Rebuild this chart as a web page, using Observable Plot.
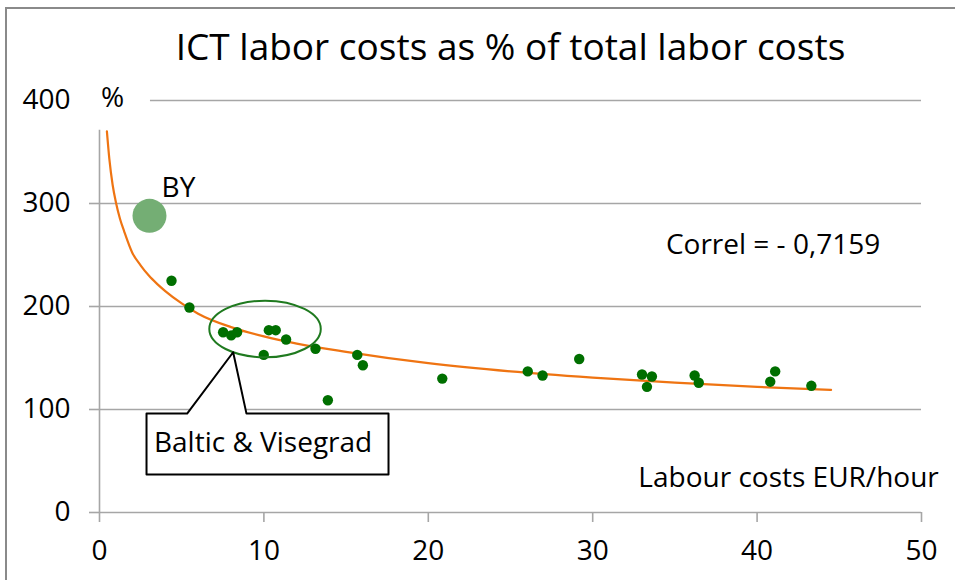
<!DOCTYPE html>
<html>
<head>
<meta charset="utf-8">
<script src="https://cdn.jsdelivr.net/npm/d3@7"></script>
<script src="https://cdn.jsdelivr.net/npm/@observablehq/plot@0.6"></script>
<style>
  body { margin: 0; background: #fff; }
  #wrap { position: relative; width: 955px; height: 580px; overflow: hidden; }
  #border { position: absolute; left: 5px; top: 7px; width: 960px; height: 600px;
            border-left: 2px solid #8a8a8a; border-top: 2px solid #8a8a8a; pointer-events: none; }
  svg { font-family: "Open Sans", sans-serif; }
</style>
</head>
<body>
<div id="wrap"><div id="border"></div></div>
<script>
// ---- data ----
const title = "ICT labor costs as % of total labor costs";
const labourCost = [4.38, 5.47, 7.52, 8.01, 8.37, 9.99, 10.3, 10.72, 11.35, 13.14, 13.89, 15.68, 16.02,
                    20.85, 26.05, 26.95, 29.18, 33.0, 33.3, 33.6, 36.2, 36.45, 40.8, 41.1, 43.3];
const ictShare   = [225, 199, 175, 172, 175, 153, 177, 177, 168, 159, 109, 153, 143,
                    130, 137, 133, 149, 134, 122, 132, 133, 126, 127, 137, 123];
const byPoint = {label: "BY", x: 3.04, y: 288};
// trend line (power fit)
const trendX = [0.45, 0.6, 0.8, 1, 1.25, 1.5, 2, 2.5, 3, 3.5, 4, 5, 6, 8, 10, 12, 15, 20, 25, 30, 35, 40, 44.5];
const trendY = [370, 343, 318, 301, 285, 273, 252, 240, 230, 222, 215, 203, 193, 180, 171, 164, 156, 145, 137, 131, 126, 122, 119];
const xTicks = [0, 10, 20, 30, 40, 50];
const yTicks = [0, 100, 200, 300, 400];
const correlText = "Correl = - 0,7159";
const xLabel = "Labour costs EUR/hour";
const yLabel = "%";
const groupLabel = "Baltic & Visegrad";
// annotation anchors (data units)
const groupEllipse = [{x: 10.1, y: 177.7, rx: 3.39, ry: 27.5}];
const calloutX = [2.86, 5.33, 8.13, 8.94, 17.58, 17.58, 2.86, 2.86];
const calloutY = [96, 96, 155.6, 96, 96, 37, 37, 96];

const points = labourCost.map((x, i) => ({x, y: ictShare[i]}));
const trend = trendX.map((x, i) => ({x, y: trendY[i]}));
const callout = calloutX.map((x, i) => ({x, y: calloutY[i]}));

const ellipseMark = (data, opts) => Plot.dot(data, {
  x: "x", y: "y",
  render(index, scales, values, dims, ctx) {
    const g = d3.create("svg:g");
    for (const i of index) {
      const d = data[i];
      const cx = scales.x(d.x), cy = scales.y(d.y);
      g.append("ellipse")
        .attr("cx", cx).attr("cy", cy)
        .attr("rx", scales.x(d.x + d.rx) - cx)
        .attr("ry", cy - scales.y(d.y + d.ry))
        .attr("fill", "none").attr("stroke", opts.stroke).attr("stroke-width", opts.strokeWidth);
    }
    return g.node();
  }
});

const grid = "#a6a6a6";
const chart = Plot.plot({
  width: 955, height: 580,
  marginLeft: 99, marginRight: 34, marginTop: 100, marginBottom: 68,
  x: {domain: [0, 50]},
  y: {domain: [0, 400]},
  style: {fontFamily: "Open Sans, sans-serif", color: "#000", background: "transparent"},
  marks: [
    Plot.ruleY(yTicks.filter(d => d < 400), {stroke: grid, strokeWidth: 1.6}),
    Plot.ruleY([400], {x1: 3.1, x2: 50, stroke: grid, strokeWidth: 1.6}),
    Plot.ruleX([0], {y1: 0, y2: 371, stroke: grid, strokeWidth: 1.6}),
    Plot.axisY({ticks: yTicks.filter(d => d < 400), tickSize: 10, stroke: grid, strokeWidth: 1.6, text: null, label: null}),
    Plot.axisY({ticks: yTicks, tickSize: 0, tickPadding: 29, fontSize: 28, tickFormat: d => d, label: null}),
    Plot.axisX({ticks: xTicks, tickSize: 10, stroke: grid, strokeWidth: 1.6, tickPadding: 18, fontSize: 28, tickFormat: d => d, label: null}),
    Plot.line(trend, {x: "x", y: "y", stroke: "#ef7412", strokeWidth: 2.2, curve: "monotone-x"}),
    Plot.dot(points, {x: "x", y: "y", r: 5.2, fill: "#006f00", stroke: "none"}),
    Plot.dot([byPoint], {x: "x", y: "y", r: 17, fill: "#74ae74", stroke: "none"}),
    Plot.text([byPoint], {x: "x", y: "y", text: "label", dx: 29, dy: -28, fontSize: 28}),
    ellipseMark(groupEllipse, {stroke: "#1f7a1f", strokeWidth: 2}),
    Plot.line(callout, {x: "x", y: "y", stroke: "#000", strokeWidth: 2, fill: "#fff", curve: "linear"}),
    Plot.text([groupLabel], {x: 9.95, y: 67, fontSize: 28}),
    Plot.text([correlText], {x: 40.97, y: 260, fontSize: 28}),
    Plot.text([xLabel], {x: 51.05, y: 33, fontSize: 28, textAnchor: "end"}),
    Plot.text([yLabel], {x: 0.79, y: 402.5, fontSize: 28}),
    Plot.text([title], {frameAnchor: "top", lineAnchor: "middle", dy: -52, fontSize: 37})
  ]
});
document.getElementById("wrap").prepend(chart);
</script>
</body>
</html>
